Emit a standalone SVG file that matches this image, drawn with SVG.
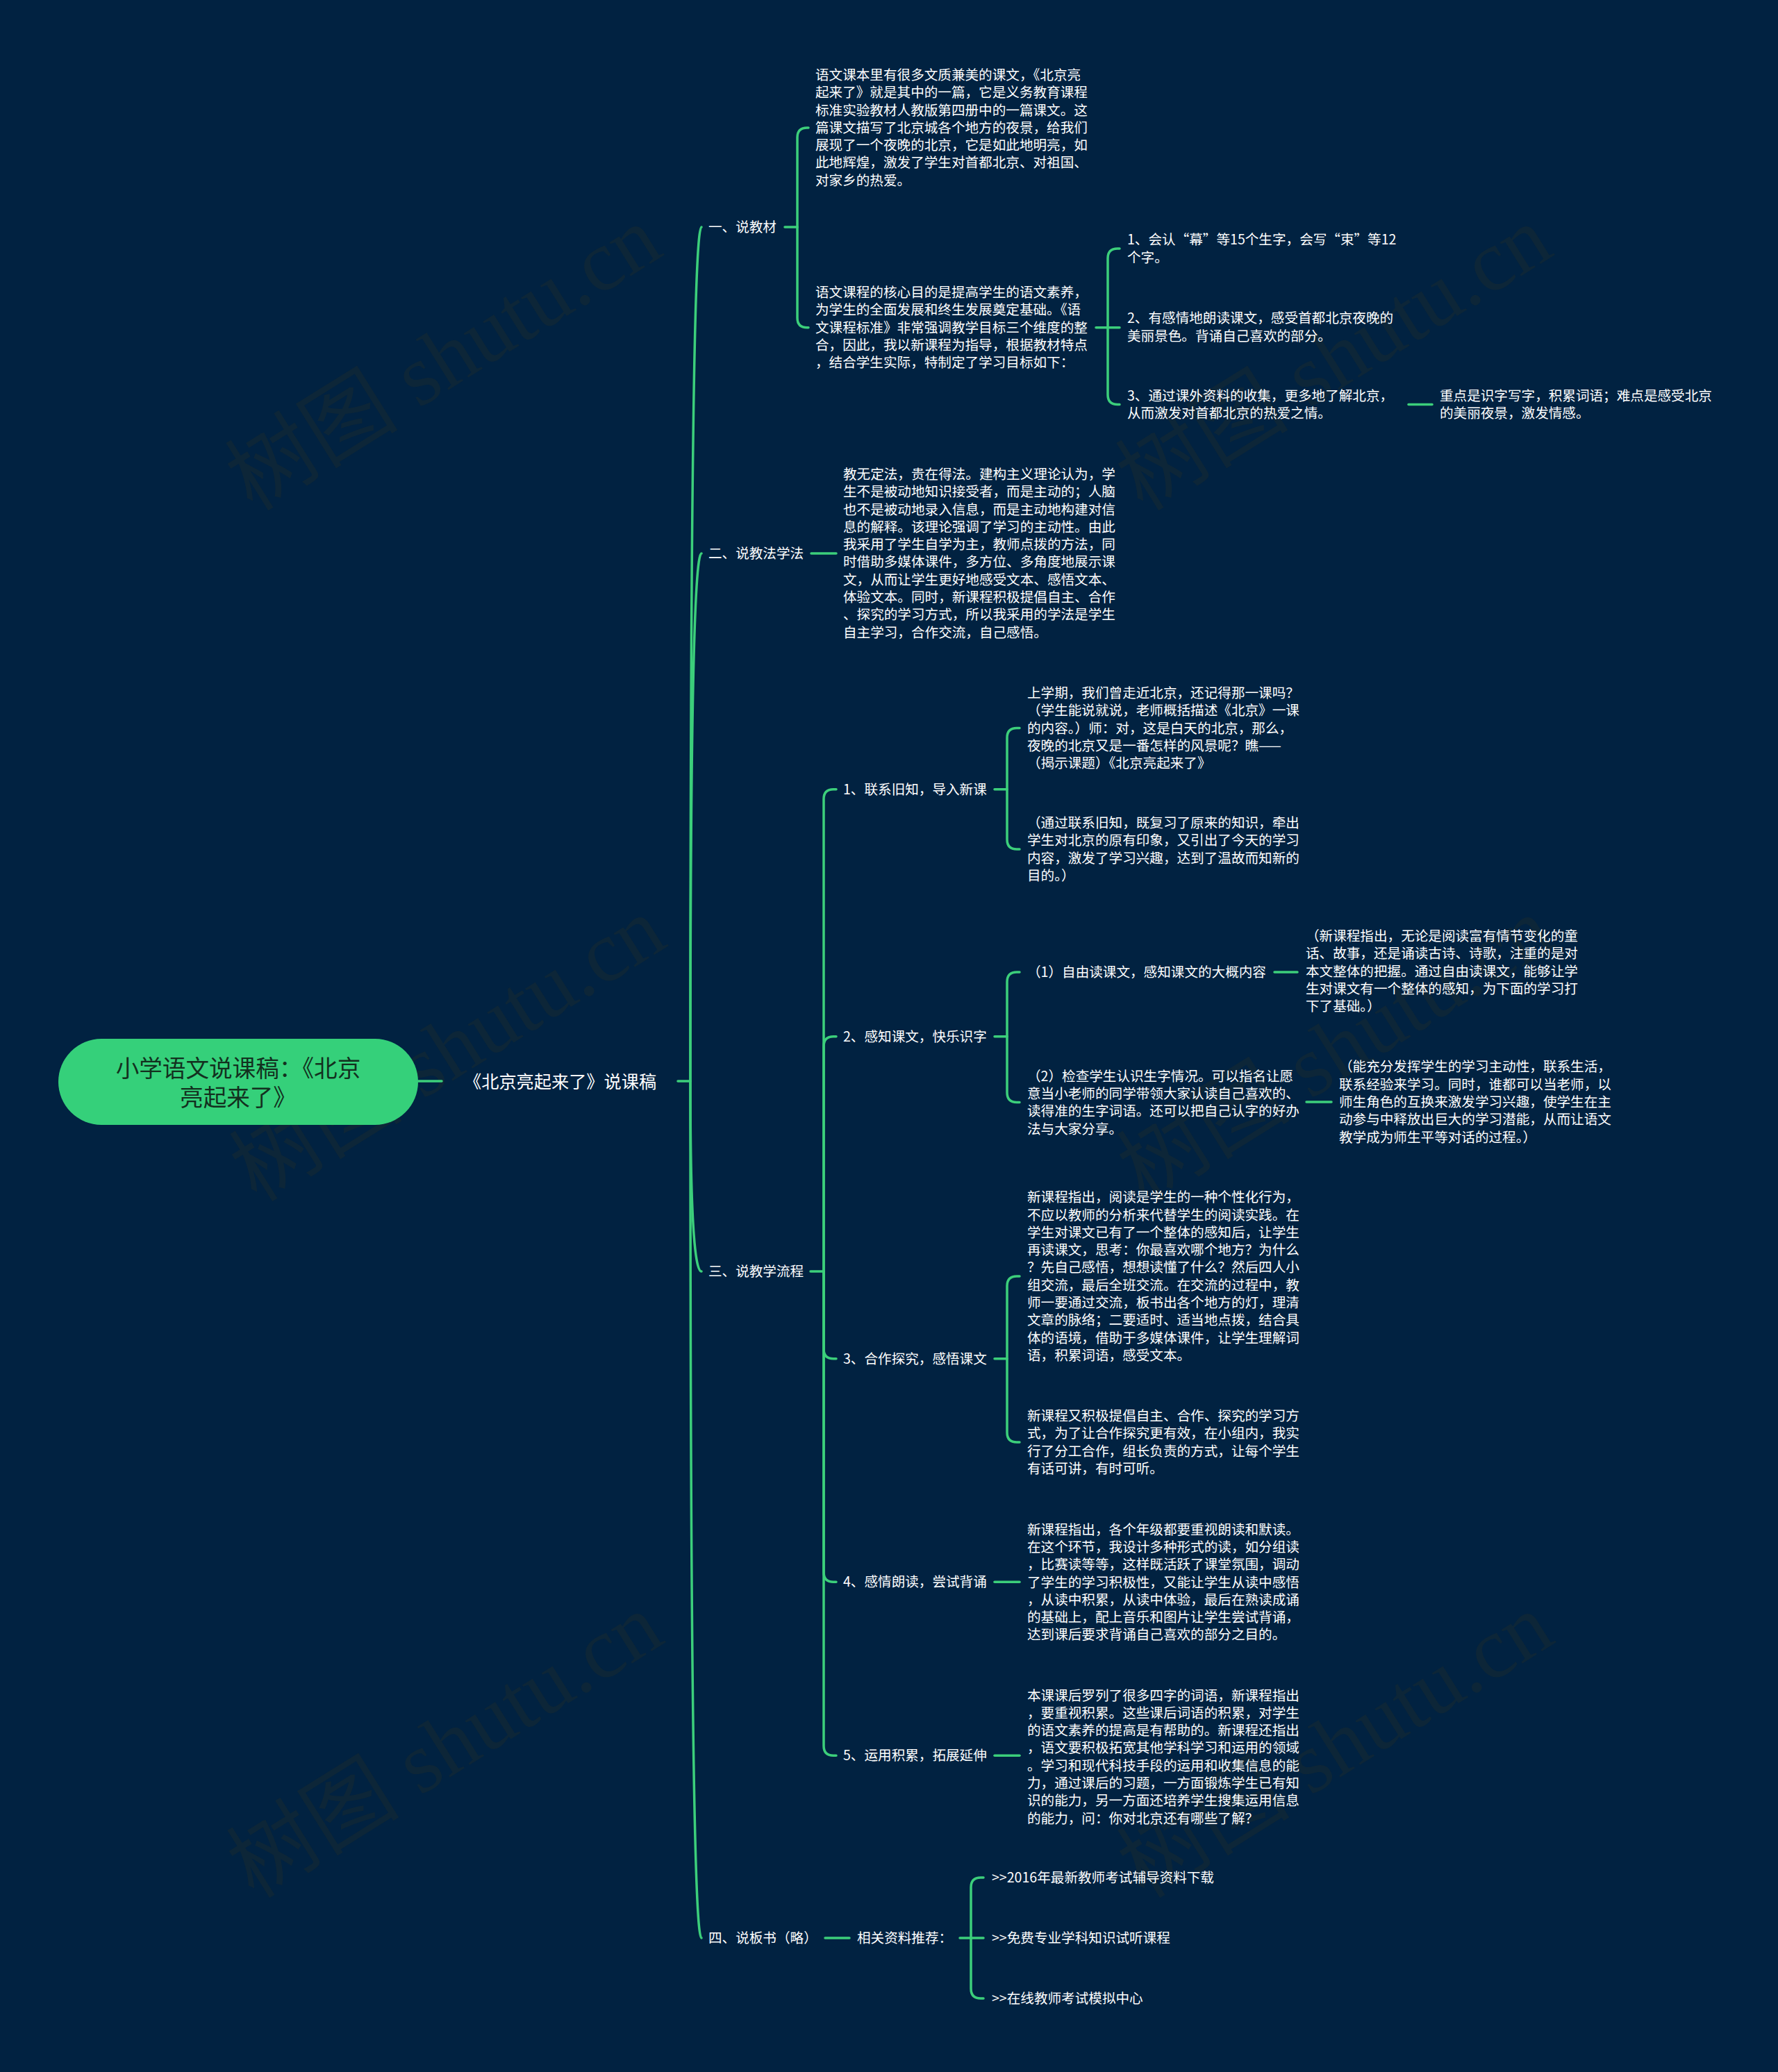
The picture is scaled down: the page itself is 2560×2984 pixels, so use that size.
<svg xmlns="http://www.w3.org/2000/svg" width="2560" height="2984" viewBox="0 0 2560 2984">
<style>
.t{font-family:"Noto Sans CJK SC","Microsoft YaHei",sans-serif;font-size:19.6px;fill:#ffffff}
.l1{font-family:"Noto Sans CJK SC","Microsoft YaHei",sans-serif;font-size:25.2px;fill:#ffffff}
.rt{font-family:"Noto Sans CJK SC","Microsoft YaHei",sans-serif;font-size:33.6px;fill:#13301f;text-anchor:middle}
.c{fill:none;stroke:#3ccf7b;stroke-width:3.5;stroke-linecap:round;stroke-linejoin:round}
.wm{font-family:"Liberation Serif","Noto Sans CJK SC",serif;font-size:125px;fill:#0d2638;text-anchor:middle}
</style>
<rect x="0" y="0" width="2560" height="2984" fill="#012241"/>
<g id="watermarks">
<text class="wm" transform="translate(640,518) rotate(-32)" y="40">树图 shutu.cn</text>
<text class="wm" transform="translate(1922,518) rotate(-32)" y="40">树图 shutu.cn</text>
<text class="wm" transform="translate(646,1513) rotate(-32)" y="40">树图 shutu.cn</text>
<text class="wm" transform="translate(1924,1513) rotate(-32)" y="40">树图 shutu.cn</text>
<text class="wm" transform="translate(642,2516) rotate(-32)" y="40">树图 shutu.cn</text>
<text class="wm" transform="translate(1924,2516) rotate(-32)" y="40">树图 shutu.cn</text>
</g>
<g id="connectors">
<path class="c" d="M602 1557H636"/>
<path class="c" d="M976 1557H994"/>
<path class="c" d="M994 1557Q994 327 1010 327"/>
<path class="c" d="M994 1557Q994 797 1010 797"/>
<path class="c" d="M994 1557Q994 1831 1010 1831"/>
<path class="c" d="M994 1557Q994 2791 1010 2791"/>
<path class="c" d="M1130 327H1148V198Q1148 184 1162 184H1164"/>
<path class="c" d="M1148 327V457.7Q1148 471.7 1162 471.7H1164"/>
<path class="c" d="M1578 471.7H1612"/>
<path class="c" d="M1595 471.7V372Q1595 358 1609 358H1612"/>
<path class="c" d="M1595 471.7V568.5Q1595 582.5 1609 582.5H1612"/>
<path class="c" d="M2028 582.5H2062"/>
<path class="c" d="M1168 797H1204"/>
<path class="c" d="M1167 1831H1186V1150.7Q1186 1136.7 1200 1136.7H1204"/>
<path class="c" d="M1186 1831V1506.7Q1186 1492.7 1200 1492.7H1204"/>
<path class="c" d="M1186 1831V1942.7Q1186 1956.7 1200 1956.7H1204"/>
<path class="c" d="M1186 1831V2264.3Q1186 2278.3 1200 2278.3H1204"/>
<path class="c" d="M1186 1831V2514.3Q1186 2528.3 1200 2528.3H1204"/>
<path class="c" d="M1432 1136.7H1450V1062.5Q1450 1048.5 1464 1048.5H1468"/>
<path class="c" d="M1450 1136.7V1209Q1450 1223 1464 1223H1468"/>
<path class="c" d="M1432 1492.7H1450V1414Q1450 1400 1464 1400H1468"/>
<path class="c" d="M1450 1492.7V1573.5Q1450 1587.5 1464 1587.5H1468"/>
<path class="c" d="M1835 1400H1868"/>
<path class="c" d="M1881 1587H1917"/>
<path class="c" d="M1432 1956.7H1450V1852Q1450 1838 1464 1838H1468"/>
<path class="c" d="M1450 1956.7V2063Q1450 2077 1464 2077H1468"/>
<path class="c" d="M1432 2278.3H1468"/>
<path class="c" d="M1432 2528.3H1468"/>
<path class="c" d="M1188 2791H1223"/>
<path class="c" d="M1382 2791H1416"/>
<path class="c" d="M1398 2791V2718Q1398 2704 1412 2704H1416"/>
<path class="c" d="M1398 2791V2864Q1398 2878 1412 2878H1416"/>
</g>
<g id="root">
<rect x="84" y="1496" width="518" height="124" rx="62" ry="62" fill="#35d07a"/>
<text class="rt"><tspan x="343" y="1550.8">小学语文说课稿：《北京</tspan><tspan x="343" y="1592.8">亮起来了》</tspan></text>
</g>
<g id="n-main"><text class="l1" x="668" y="1566.6">《北京亮起来了》说课稿</text></g>
<g id="n-1"><text class="t" x="1020" y="334">一、说教材</text></g>
<g id="n-1a"><text class="t">
<tspan x="1174" y="114.9">语文课本里有很多文质兼美的课文，《北京亮</tspan>
<tspan x="1174" y="140.2">起来了》就是其中的一篇，它是义务教育课程</tspan>
<tspan x="1174" y="165.5">标准实验教材人教版第四册中的一篇课文。这</tspan>
<tspan x="1174" y="190.8">篇课文描写了北京城各个地方的夜景，给我们</tspan>
<tspan x="1174" y="216.1">展现了一个夜晚的北京，它是如此地明亮，如</tspan>
<tspan x="1174" y="241.4">此地辉煌，激发了学生对首都北京、对祖国、</tspan>
<tspan x="1174" y="266.7">对家乡的热爱。</tspan>
</text></g>
<g id="n-1b"><text class="t">
<tspan x="1174" y="428.1">语文课程的核心目的是提高学生的语文素养，</tspan>
<tspan x="1174" y="453.4">为学生的全面发展和终生发展奠定基础。《语</tspan>
<tspan x="1174" y="478.7">文课程标准》非常强调教学目标三个维度的整</tspan>
<tspan x="1174" y="504">合，因此，我以新课程为指导，根据教材特点</tspan>
<tspan x="1174" y="529.3">，结合学生实际，特制定了学习目标如下：</tspan>
</text></g>
<g id="n-g1"><text class="t"><tspan x="1623" y="352.4">1、会认“幕”等15个生字，会写“束”等12</tspan><tspan x="1623" y="377.7">个字。</tspan></text></g>
<g id="n-g2"><text class="t"><tspan x="1623" y="465.2">2、有感情地朗读课文，感受首都北京夜晚的</tspan><tspan x="1623" y="490.5">美丽景色。背诵自己喜欢的部分。</tspan></text></g>
<g id="n-g3"><text class="t"><tspan x="1623" y="576.9">3、通过课外资料的收集，更多地了解北京，</tspan><tspan x="1623" y="602.2">从而激发对首都北京的热爱之情。</tspan></text></g>
<g id="n-g3a"><text class="t"><tspan x="2073" y="576.9">重点是识字写字，积累词语；难点是感受北京</tspan><tspan x="2073" y="602.2">的美丽夜景，激发情感。</tspan></text></g>
<g id="n-2"><text class="t" x="1020" y="804">二、说教法学法</text></g>
<g id="n-2a"><text class="t">
<tspan x="1214" y="689.9">教无定法，贵在得法。建构主义理论认为，学</tspan>
<tspan x="1214" y="715.2">生不是被动地知识接受者，而是主动的；人脑</tspan>
<tspan x="1214" y="740.5">也不是被动地录入信息，而是主动地构建对信</tspan>
<tspan x="1214" y="765.8">息的解释。该理论强调了学习的主动性。由此</tspan>
<tspan x="1214" y="791.1">我采用了学生自学为主，教师点拨的方法，同</tspan>
<tspan x="1214" y="816.4">时借助多媒体课件，多方位、多角度地展示课</tspan>
<tspan x="1214" y="841.7">文，从而让学生更好地感受文本、感悟文本、</tspan>
<tspan x="1214" y="867">体验文本。同时，新课程积极提倡自主、合作</tspan>
<tspan x="1214" y="892.3">、探究的学习方式，所以我采用的学法是学生</tspan>
<tspan x="1214" y="917.6">自主学习，合作交流，自己感悟。</tspan>
</text></g>
<g id="n-3"><text class="t" x="1020" y="1838">三、说教学流程</text></g>
<g id="n-31"><text class="t" x="1214" y="1143.7">1、联系旧知，导入新课</text></g>
<g id="n-31a"><text class="t">
<tspan x="1479" y="1004.9">上学期，我们曾走近北京，还记得那一课吗？</tspan>
<tspan x="1479" y="1030.2">（学生能说就说，老师概括描述《北京》一课</tspan>
<tspan x="1479" y="1055.5">的内容。）师：对，这是白天的北京，那么，</tspan>
<tspan x="1479" y="1080.8">夜晚的北京又是一番怎样的风景呢？瞧——</tspan>
<tspan x="1479" y="1106.1">（揭示课题）《北京亮起来了》</tspan>
</text></g>
<g id="n-31b"><text class="t">
<tspan x="1479" y="1192.1">（通过联系旧知，既复习了原来的知识，牵出</tspan>
<tspan x="1479" y="1217.4">学生对北京的原有印象，又引出了今天的学习</tspan>
<tspan x="1479" y="1242.7">内容，激发了学习兴趣，达到了温故而知新的</tspan>
<tspan x="1479" y="1268">目的。）</tspan>
</text></g>
<g id="n-32"><text class="t" x="1214" y="1499.7">2、感知课文，快乐识字</text></g>
<g id="n-32a"><text class="t" x="1479" y="1407">（1）自由读课文，感知课文的大概内容</text></g>
<g id="n-32a1"><text class="t">
<tspan x="1880" y="1354.9">（新课程指出，无论是阅读富有情节变化的童</tspan>
<tspan x="1880" y="1380.2">话、故事，还是诵读古诗、诗歌，注重的是对</tspan>
<tspan x="1880" y="1405.5">本文整体的把握。通过自由读课文，能够让学</tspan>
<tspan x="1880" y="1430.8">生对课文有一个整体的感知，为下面的学习打</tspan>
<tspan x="1880" y="1456.1">下了基础。）</tspan>
</text></g>
<g id="n-32b"><text class="t">
<tspan x="1479" y="1556.6">（2）检查学生认识生字情况。可以指名让愿</tspan>
<tspan x="1479" y="1581.9">意当小老师的同学带领大家认读自己喜欢的、</tspan>
<tspan x="1479" y="1607.2">读得准的生字词语。还可以把自己认字的好办</tspan>
<tspan x="1479" y="1632.5">法与大家分享。</tspan>
</text></g>
<g id="n-32b1"><text class="t">
<tspan x="1928" y="1543.4">（能充分发挥学生的学习主动性，联系生活，</tspan>
<tspan x="1928" y="1568.7">联系经验来学习。同时，谁都可以当老师，以</tspan>
<tspan x="1928" y="1594">师生角色的互换来激发学习兴趣，使学生在主</tspan>
<tspan x="1928" y="1619.3">动参与中释放出巨大的学习潜能，从而让语文</tspan>
<tspan x="1928" y="1644.6">教学成为师生平等对话的过程。）</tspan>
</text></g>
<g id="n-33"><text class="t" x="1214" y="1963.7">3、合作探究，感悟课文</text></g>
<g id="n-33a"><text class="t">
<tspan x="1479" y="1731.2">新课程指出，阅读是学生的一种个性化行为，</tspan>
<tspan x="1479" y="1756.5">不应以教师的分析来代替学生的阅读实践。在</tspan>
<tspan x="1479" y="1781.8">学生对课文已有了一个整体的感知后，让学生</tspan>
<tspan x="1479" y="1807.1">再读课文，思考：你最喜欢哪个地方？为什么</tspan>
<tspan x="1479" y="1832.4">？先自己感悟，想想读懂了什么？然后四人小</tspan>
<tspan x="1479" y="1857.7">组交流，最后全班交流。在交流的过程中，教</tspan>
<tspan x="1479" y="1883">师一要通过交流，板书出各个地方的灯，理清</tspan>
<tspan x="1479" y="1908.3">文章的脉络；二要适时、适当地点拨，结合具</tspan>
<tspan x="1479" y="1933.6">体的语境，借助于多媒体课件，让学生理解词</tspan>
<tspan x="1479" y="1958.9">语，积累词语，感受文本。</tspan>
</text></g>
<g id="n-33b"><text class="t">
<tspan x="1479" y="2046.1">新课程又积极提倡自主、合作、探究的学习方</tspan>
<tspan x="1479" y="2071.4">式，为了让合作探究更有效，在小组内，我实</tspan>
<tspan x="1479" y="2096.7">行了分工合作，组长负责的方式，让每个学生</tspan>
<tspan x="1479" y="2122">有话可讲，有时可听。</tspan>
</text></g>
<g id="n-34"><text class="t" x="1214" y="2285.3">4、感情朗读，尝试背诵</text></g>
<g id="n-34a"><text class="t">
<tspan x="1479" y="2209.6">新课程指出，各个年级都要重视朗读和默读。</tspan>
<tspan x="1479" y="2234.9">在这个环节，我设计多种形式的读，如分组读</tspan>
<tspan x="1479" y="2260.2">，比赛读等等，这样既活跃了课堂氛围，调动</tspan>
<tspan x="1479" y="2285.5">了学生的学习积极性，又能让学生从读中感悟</tspan>
<tspan x="1479" y="2310.8">，从读中积累，从读中体验，最后在熟读成诵</tspan>
<tspan x="1479" y="2336.1">的基础上，配上音乐和图片让学生尝试背诵，</tspan>
<tspan x="1479" y="2361.4">达到课后要求背诵自己喜欢的部分之目的。</tspan>
</text></g>
<g id="n-35"><text class="t" x="1214" y="2535.3">5、运用积累，拓展延伸</text></g>
<g id="n-35a"><text class="t">
<tspan x="1479" y="2448.5">本课课后罗列了很多四字的词语，新课程指出</tspan>
<tspan x="1479" y="2473.8">，要重视积累。这些课后词语的积累，对学生</tspan>
<tspan x="1479" y="2499.1">的语文素养的提高是有帮助的。新课程还指出</tspan>
<tspan x="1479" y="2524.4">，语文要积极拓宽其他学科学习和运用的领域</tspan>
<tspan x="1479" y="2549.7">。学习和现代科技手段的运用和收集信息的能</tspan>
<tspan x="1479" y="2575">力，通过课后的习题，一方面锻炼学生已有知</tspan>
<tspan x="1479" y="2600.3">识的能力，另一方面还培养学生搜集运用信息</tspan>
<tspan x="1479" y="2625.6">的能力，问：你对北京还有哪些了解？</tspan>
</text></g>
<g id="n-4"><text class="t" x="1020" y="2798">四、说板书（略）</text></g>
<g id="n-4a"><text class="t" x="1234" y="2798">相关资料推荐：</text></g>
<g id="n-4a1"><text class="t" x="1428" y="2711">&gt;&gt;2016年最新教师考试辅导资料下载</text></g>
<g id="n-4a2"><text class="t" x="1428" y="2798">&gt;&gt;免费专业学科知识试听课程</text></g>
<g id="n-4a3"><text class="t" x="1428" y="2885">&gt;&gt;在线教师考试模拟中心</text></g>
</svg>
